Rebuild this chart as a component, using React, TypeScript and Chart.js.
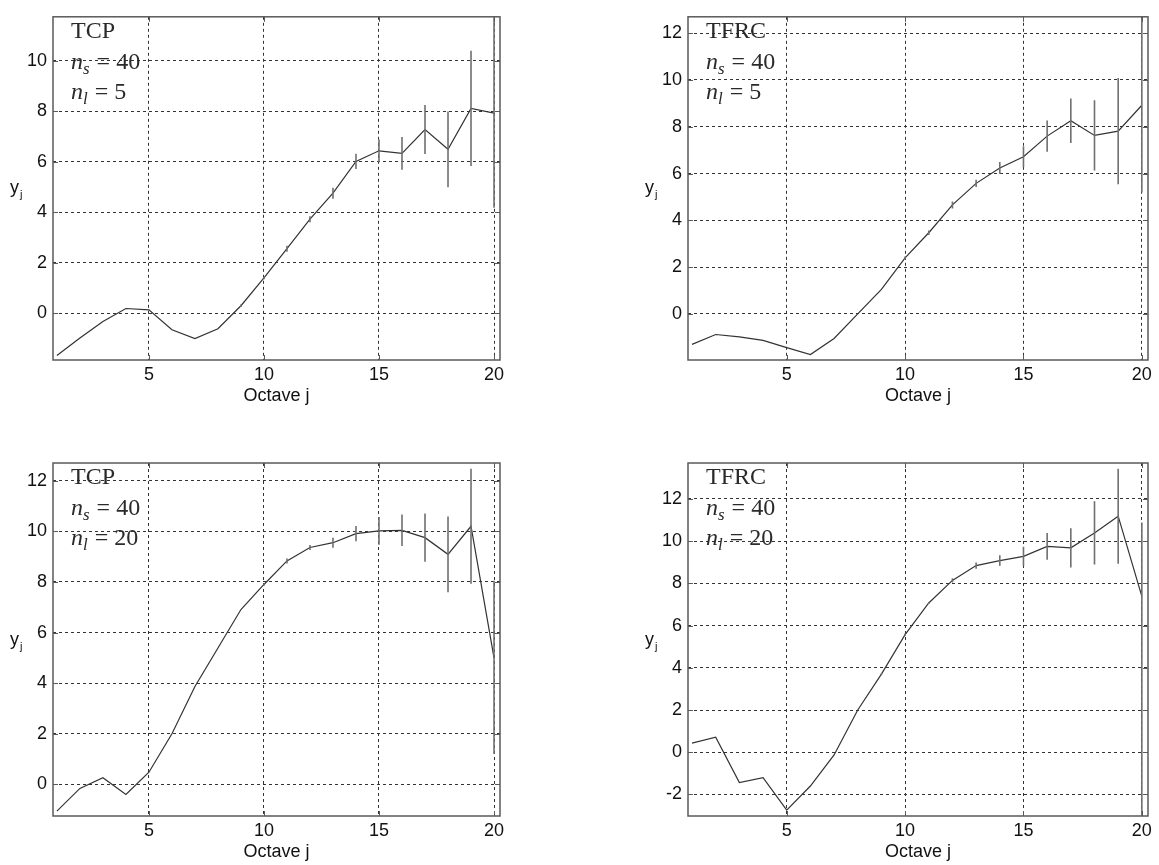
import React, { useEffect, useRef } from "react";
import { Chart, registerables } from "chart.js";

Chart.register(...registerables);

// ---------------- data ----------------
const octaves = [1, 2, 3, 4, 5, 6, 7, 8, 9, 10, 11, 12, 13, 14, 15, 16, 17, 18, 19, 20];
const xTickValues = [5, 10, 15, 20];

const tcpNl5 = [-1.67, -0.98, -0.32, 0.19, 0.14, -0.65, -1.0, -0.61, 0.3, 1.4, 2.56, 3.73, 4.76, 6.02, 6.44, 6.34, 7.28, 6.5, 8.12, 7.93];
const tcpNl5ErrUp = [0, 0, 0, 0, 0, 0, 0, 0, 0.05, 0.05, 0.12, 0.12, 0.22, 0.3, 0.45, 0.65, 0.97, 1.5, 2.28, 3.8];
const tcpNl5ErrLow = [0, 0, 0, 0, 0, 0, 0, 0, 0.05, 0.05, 0.12, 0.12, 0.22, 0.3, 0.45, 0.65, 0.97, 1.5, 2.28, 3.75];
const tcpNl5YTicks = [0, 2, 4, 6, 8, 10];

const tfrcNl5 = [-1.3, -0.88, -0.98, -1.13, -1.44, -1.74, -1.05, 0.0, 1.05, 2.4, 3.47, 4.66, 5.58, 6.24, 6.72, 7.6, 8.26, 7.63, 7.81, 8.92];
const tfrcNl5ErrUp = [0, 0, 0, 0, 0, 0, 0, 0, 0, 0.05, 0.1, 0.15, 0.15, 0.25, 0.45, 0.67, 0.95, 1.5, 2.27, 3.75];
const tfrcNl5ErrLow = [0, 0, 0, 0, 0, 0, 0, 0, 0, 0.05, 0.1, 0.15, 0.15, 0.25, 0.45, 0.67, 0.95, 1.5, 2.27, 3.73];
const tfrcNl5YTicks = [0, 2, 4, 6, 8, 10, 12];

const tcpNl20 = [-1.06, -0.16, 0.26, -0.4, 0.48, 2.0, 3.87, 5.39, 6.91, 7.9, 8.83, 9.36, 9.55, 9.91, 10.02, 10.04, 9.75, 9.09, 10.2, 5.0];
const tcpNl20ErrUp = [0, 0, 0, 0, 0, 0, 0, 0, 0, 0.05, 0.1, 0.1, 0.2, 0.3, 0.55, 0.62, 0.95, 1.5, 2.27, 3.05];
const tcpNl20ErrLow = [0, 0, 0, 0, 0, 0, 0, 0, 0, 0.05, 0.1, 0.1, 0.2, 0.3, 0.55, 0.62, 0.95, 1.5, 2.27, 3.8];
const tcpNl20YTicks = [0, 2, 4, 6, 8, 10, 12];

const tfrcNl20 = [0.43, 0.71, -1.44, -1.2, -2.74, -1.6, -0.13, 2.0, 3.7, 5.57, 7.07, 8.14, 8.84, 9.08, 9.28, 9.75, 9.68, 10.39, 11.18, 7.38];
const tfrcNl20ErrUp = [0, 0, 0, 0, 0, 0, 0, 0, 0.05, 0.05, 0.05, 0.1, 0.15, 0.25, 0.45, 0.63, 0.93, 1.5, 2.25, 3.5];
const tfrcNl20ErrLow = [0, 0, 0, 0, 0, 0, 0, 0, 0.05, 0.05, 0.05, 0.1, 0.15, 0.25, 0.45, 0.63, 0.93, 1.5, 2.25, 10.5];
const tfrcNl20YTicks = [-2, 0, 2, 4, 6, 8, 10, 12];

// ---------------- layout / style ----------------
type Panel = {
  protocol: string;
  ns: string;
  nl: string;
  values: number[];
  errUp: number[];
  errLow: number[];
  yTicks: number[];
  yMin: number;
  yMax: number;
  xMin: number;
  xMax: number;
  canvasLeft: number;
  canvasTop: number;
  canvasW: number;
  canvasH: number;
  plotLeft: number;
  plotTop: number;
  plotRight: number;
  plotBottom: number;
};

const SANS = '"Liberation Sans", Arial, sans-serif';
const SERIF = '"Liberation Serif", "Times New Roman", serif';

const panels: Panel[] = [
  {
    protocol: "TCP", ns: "40", nl: "5", values: tcpNl5, errUp: tcpNl5ErrUp, errLow: tcpNl5ErrLow, yTicks: tcpNl5YTicks,
    yMin: -1.85, yMax: 11.75, xMin: 0.83, xMax: 20.26,
    canvasLeft: 0, canvasTop: 0, canvasW: 560, canvasH: 425,
    plotLeft: 53, plotTop: 8, plotRight: 500, plotBottom: 360,
  },
  {
    protocol: "TFRC", ns: "40", nl: "5", values: tfrcNl5, errUp: tfrcNl5ErrUp, errLow: tfrcNl5ErrLow, yTicks: tfrcNl5YTicks,
    yMin: -1.97, yMax: 12.7, xMin: 0.83, xMax: 20.26,
    canvasLeft: 600, canvasTop: 0, canvasW: 559, canvasH: 425,
    plotLeft: 688, plotTop: 8, plotRight: 1148, plotBottom: 360,
  },
  {
    protocol: "TCP", ns: "40", nl: "20", values: tcpNl20, errUp: tcpNl20ErrUp, errLow: tcpNl20ErrLow, yTicks: tcpNl20YTicks,
    yMin: -1.25, yMax: 12.7, xMin: 0.83, xMax: 20.26,
    canvasLeft: 0, canvasTop: 430, canvasW: 560, canvasH: 435,
    plotLeft: 53, plotTop: 463, plotRight: 500, plotBottom: 816,
  },
  {
    protocol: "TFRC", ns: "40", nl: "20", values: tfrcNl20, errUp: tfrcNl20ErrUp, errLow: tfrcNl20ErrLow, yTicks: tfrcNl20YTicks,
    yMin: -3.02, yMax: 13.7, xMin: 0.83, xMax: 20.26,
    canvasLeft: 600, canvasTop: 430, canvasW: 559, canvasH: 435,
    plotLeft: 688, plotTop: 463, plotRight: 1148, plotBottom: 816,
  },
];

function drawSubscripted(
  ctx: CanvasRenderingContext2D,
  x: number,
  baseline: number,
  main: string,
  sub: string,
  rest: string,
  size: number
) {
  ctx.font = `italic ${size}px ${SERIF}`;
  ctx.fillText(main, x, baseline);
  x += ctx.measureText(main).width;
  const subSize = Math.round(size * 0.7);
  ctx.font = `italic ${subSize}px ${SERIF}`;
  ctx.fillText(sub, x, baseline + 5);
  x += ctx.measureText(sub).width + 1;
  ctx.font = `${size}px ${SERIF}`;
  ctx.fillText(rest, x, baseline);
}

function makeDecor(p: Panel) {
  return {
    id: "decor",
    afterDatasetsDraw(chart: any) {
      const { ctx, chartArea: a, scales } = chart;
      const xs = scales.x;
      const ys = scales.y;

      // error bars
      ctx.save();
      ctx.beginPath();
      ctx.rect(a.left, a.top, a.right - a.left, a.bottom - a.top);
      ctx.clip();
      ctx.strokeStyle = "#6f6f6f";
      ctx.lineWidth = 1.6;
      p.values.forEach((v, i) => {
        const up = p.errUp[i];
        const low = p.errLow[i];
        if (!up && !low) return;
        const px = xs.getPixelForValue(octaves[i]);
        const y1 = ys.getPixelForValue(v - low);
        const y2 = ys.getPixelForValue(v + up);
        ctx.beginPath();
        ctx.moveTo(px, y1);
        ctx.lineTo(px, y2);
        ctx.stroke();
      });
      ctx.restore();

      // frame and inward ticks
      ctx.save();
      ctx.strokeStyle = "#5a5a5a";
      ctx.lineWidth = 1.5;
      ctx.strokeRect(a.left, a.top, a.right - a.left, a.bottom - a.top);
      ctx.lineWidth = 1;
      ctx.beginPath();
      xTickValues.forEach((v) => {
        const px = Math.round(xs.getPixelForValue(v)) + 0.5;
        ctx.moveTo(px, a.bottom);
        ctx.lineTo(px, a.bottom - 5);
        ctx.moveTo(px, a.top);
        ctx.lineTo(px, a.top + 5);
      });
      p.yTicks.forEach((v) => {
        const py = Math.round(ys.getPixelForValue(v)) + 0.5;
        ctx.moveTo(a.left, py);
        ctx.lineTo(a.left + 5, py);
        ctx.moveTo(a.right, py);
        ctx.lineTo(a.right - 5, py);
      });
      ctx.stroke();
      ctx.restore();

      // annotation text
      ctx.save();
      ctx.fillStyle = "#2a2a2a";
      ctx.textBaseline = "alphabetic";
      ctx.textAlign = "left";
      const tx = a.left + 18;
      ctx.font = `24px ${SERIF}`;
      ctx.fillText(p.protocol, tx, a.top + 21);
      drawSubscripted(ctx, tx, a.top + 52, "n", "s", " = " + p.ns, 24);
      drawSubscripted(ctx, tx, a.top + 82, "n", "l", " = " + p.nl, 24);
      ctx.restore();

      // axis titles
      ctx.save();
      ctx.fillStyle = "#111";
      ctx.textAlign = "center";
      ctx.textBaseline = "middle";
      ctx.font = `18px ${SANS}`;
      ctx.fillText("Octave j", (a.left + a.right) / 2, a.bottom + 36);
      ctx.textAlign = "left";
      ctx.textBaseline = "alphabetic";
      const yx = a.left - 43;
      const yy = (a.top + a.bottom) / 2 + 5;
      ctx.font = `18px ${SANS}`;
      ctx.fillText("y", yx, yy);
      const w = ctx.measureText("y").width;
      ctx.font = `11px ${SANS}`;
      ctx.fillText("j", yx + w + 1, yy + 5);
      ctx.restore();
    },
  };
}

function PanelChart({ p }: { p: Panel }) {
  const ref = useRef<HTMLCanvasElement | null>(null);
  useEffect(() => {
    if (!ref.current) return;
    const yAxisWidth = p.plotLeft - p.canvasLeft;
    const xAxisHeight = p.canvasTop + p.canvasH - p.plotBottom;
    const padTop = p.plotTop - p.canvasTop;
    const padRight = p.canvasLeft + p.canvasW - p.plotRight;
    const chart = new Chart(ref.current, {
      type: "line",
      data: {
        datasets: [
          {
            data: octaves.map((x, i) => ({ x, y: p.values[i] })),
            borderColor: "#333",
            borderWidth: 1.2,
            pointRadius: 0,
            tension: 0,
            fill: false,
          },
        ],
      },
      options: {
        animation: false,
        responsive: false,
        devicePixelRatio: 1,
        layout: { padding: { top: padTop, right: padRight, left: 0, bottom: 0 } },
        plugins: { legend: { display: false }, tooltip: { enabled: false } },
        scales: {
          x: {
            type: "linear",
            min: p.xMin,
            max: p.xMax,
            afterBuildTicks: (s: any) => {
              s.ticks = xTickValues.map((v) => ({ value: v }));
            },
            afterFit: (s: any) => {
              s.height = xAxisHeight;
            },
            ticks: {
              font: { family: SANS, size: 18 },
              color: "#111",
              padding: 4,
              maxRotation: 0,
              autoSkip: false,
              callback: (v: any) => String(v),
            },
            grid: { color: "#333", lineWidth: 1, drawTicks: false },
            border: { display: false, dash: [3, 3] },
          },
          y: {
            type: "linear",
            min: p.yMin,
            max: p.yMax,
            afterBuildTicks: (s: any) => {
              s.ticks = p.yTicks.map((v) => ({ value: v }));
            },
            afterFit: (s: any) => {
              s.width = yAxisWidth;
            },
            ticks: {
              font: { family: SANS, size: 18 },
              color: "#111",
              padding: 6,
              autoSkip: false,
              callback: (v: any) => String(v),
            },
            grid: { color: "#333", lineWidth: 1, drawTicks: false },
            border: { display: false, dash: [3, 3] },
          },
        },
      },
      plugins: [makeDecor(p)],
    });
    return () => chart.destroy();
  }, [p]);
  return (
    <canvas
      ref={ref}
      width={p.canvasW}
      height={p.canvasH}
      style={{
        position: "absolute",
        left: p.canvasLeft,
        top: p.canvasTop,
        width: p.canvasW,
        height: p.canvasH,
      }}
    />
  );
}

export default function App() {
  return (
    <div
      style={{
        position: "absolute",
        left: 0,
        top: 0,
        width: 1159,
        height: 865,
        background: "#fff",
        overflow: "hidden",
      }}
    >
      {panels.map((p, i) => (
        <PanelChart key={i} p={p} />
      ))}
    </div>
  );
}
